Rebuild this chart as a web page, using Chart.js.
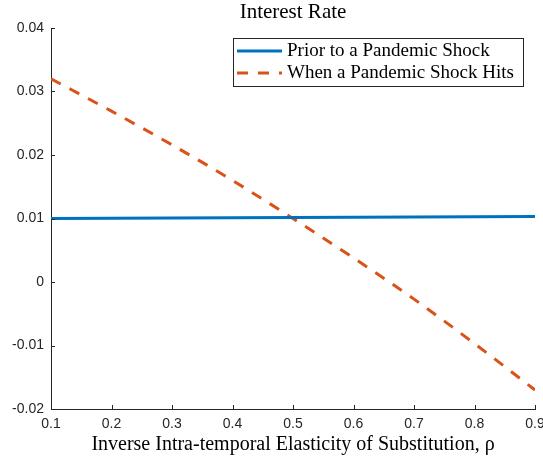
<!DOCTYPE html>
<html lang="en">
<head>
    <meta charset="UTF-8">
    <script src="https://cdn.jsdelivr.net/npm/chart.js"></script>
    <title>Interest Rate</title>
    <style>
        body{ margin: 0; background: #fff; }
        .container{ width: 543px; height: 457px; }
    </style>
</head>
<body>
    <div class="container">
        <canvas id="myChart"></canvas>
    </div>
    <script>
        // rho grid and the two interest rate paths
        const rho = [0.1, 0.2, 0.3, 0.4, 0.5, 0.6, 0.7, 0.8, 0.9];
        const ratePrior = [0.0100, 0.01004, 0.01008, 0.01011, 0.01015, 0.01019, 0.01022, 0.01026, 0.0103];
        const rateShock = [0.0320, 0.0269, 0.0216, 0.0160, 0.0100, 0.0038, -0.0027, -0.0097, -0.0170];

        const xTicks = [0.1, 0.2, 0.3, 0.4, 0.5, 0.6, 0.7, 0.8, 0.9];
        const xTickLabels = ['0.1', '0.2', '0.3', '0.4', '0.5', '0.6', '0.7', '0.8', '0.9'];
        const yTicks = [-0.02, -0.01, 0, 0.01, 0.02, 0.03, 0.04];
        const yTickLabels = ['-0.02', '-0.01', '0', '0.01', '0.02', '0.03', '0.04'];

        const axisColor = '#262626';
        const serif = '"Liberation Serif", "Times New Roman", serif';
        const sans = '"Liberation Sans", Arial, sans-serif';

        function pts(ys){
            return rho.map(function(x, i){ return {x: x, y: ys[i]}; });
        }

        // matlab style ticks pointing into the axes
        const innerTicks = {
            id: 'innerTicks',
            afterDraw(chart){
                const ctx = chart.ctx;
                const xs = chart.scales.x, ys = chart.scales.y;
                const len = 4;
                ctx.save();
                ctx.strokeStyle = axisColor;
                ctx.lineWidth = 1;
                ctx.beginPath();
                xTicks.forEach(function(v){
                    const px = Math.round(xs.getPixelForValue(v)) + 0.5;
                    ctx.moveTo(px, ys.bottom);
                    ctx.lineTo(px, ys.bottom - len);
                });
                yTicks.forEach(function(v){
                    const py = Math.round(ys.getPixelForValue(v)) + 0.5;
                    ctx.moveTo(xs.left, py);
                    ctx.lineTo(xs.left + len, py);
                });
                ctx.stroke();
                ctx.restore();
            }
        };

        // boxed legend in the upper right of the axes
        const boxLegend = {
            id: 'boxLegend',
            afterDraw(chart){
                const ctx = chart.ctx;
                const x0 = 233.5, y0 = 38.5, w = 290, h = 48;
                ctx.save();
                ctx.fillStyle = '#fff';
                ctx.fillRect(x0, y0, w, h);
                ctx.strokeStyle = axisColor;
                ctx.lineWidth = 1;
                ctx.strokeRect(x0, y0, w, h);
                ctx.font = '19px ' + serif;
                ctx.textBaseline = 'middle';
                chart.data.datasets.forEach(function(ds, i){
                    const cy = 51 + i * 22;
                    ctx.strokeStyle = ds.borderColor;
                    ctx.lineWidth = ds.borderWidth;
                    ctx.setLineDash(ds.borderDash || []);
                    ctx.beginPath();
                    ctx.moveTo(237, cy);
                    ctx.lineTo(282, cy);
                    ctx.stroke();
                    ctx.setLineDash([]);
                    ctx.fillStyle = '#000';
                    ctx.fillText(ds.label, 287, cy);
                });
                ctx.restore();
            }
        };

        const ctx = document.getElementById('myChart');
        const config = {
            type: 'line',
            data: {
                datasets: [{
                    label: 'Prior to a Pandemic Shock',
                    data: pts(ratePrior),
                    borderColor: '#0072BD',
                    borderWidth: 3,
                    pointRadius: 0
                }, {
                    label: 'When a Pandemic Shock Hits',
                    data: pts(rateShock),
                    borderColor: '#D95319',
                    borderWidth: 3,
                    borderDash: [11, 10],
                    pointRadius: 0,
                    cubicInterpolationMode: 'monotone'
                }]
            },
            options: {
                responsive: true,
                maintainAspectRatio: false,
                animation: false,
                layout: { padding: { left: 0, right: 8, top: 0, bottom: 0 } },
                plugins: {
                    legend: { display: false },
                    tooltip: { enabled: false },
                    title: {
                        display: true,
                        text: 'Interest Rate',
                        fullSize: false,
                        color: '#000',
                        font: { family: serif, size: 21, weight: 'normal', lineHeight: 1.2 },
                        padding: { top: 0, bottom: 2.8 }
                    }
                },
                scales: {
                    x: {
                        type: 'linear',
                        min: 0.1,
                        max: 0.9,
                        afterBuildTicks: function(s){ s.ticks = xTicks.map(function(v){ return {value: v}; }); },
                        afterFit: function(s){ s.height = 48; s.paddingLeft = 0; s.paddingRight = 0; },
                        grid: { display: false, drawTicks: false },
                        border: { display: true, color: axisColor, width: 1 },
                        ticks: {
                            color: axisColor,
                            padding: 7,
                            maxRotation: 0,
                            autoSkip: false,
                            font: { family: sans, size: 14 },
                            callback: function(v, i){ return xTickLabels[i]; }
                        },
                        title: {
                            display: true,
                            text: 'Inverse Intra-temporal Elasticity of Substitution, ρ',
                            color: '#000',
                            font: { family: serif, size: 20, lineHeight: 1 },
                            padding: { top: 0, bottom: 2 }
                        }
                    },
                    y: {
                        min: -0.02,
                        max: 0.04,
                        afterBuildTicks: function(s){ s.ticks = yTicks.map(function(v){ return {value: v}; }); },
                        afterFit: function(s){ s.width = 51; s.paddingTop = 0; s.paddingBottom = 0; },
                        grid: { display: false, drawTicks: false },
                        border: { display: true, color: axisColor, width: 1 },
                        ticks: {
                            color: axisColor,
                            padding: 7,
                            autoSkip: false,
                            font: { family: sans, size: 14 },
                            callback: function(v, i){ return yTickLabels[i]; }
                        }
                    }
                }
            },
            plugins: [innerTicks, boxLegend]
        };
        const myChart = new Chart(ctx, config);
    </script>
</body>
</html>
